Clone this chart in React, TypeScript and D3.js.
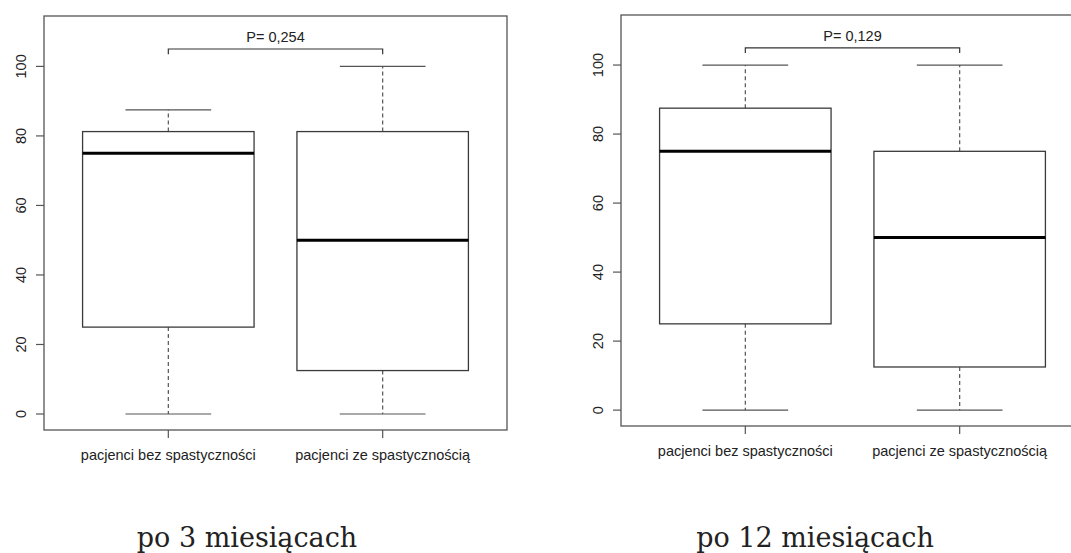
import React from 'react';
import * as d3 from 'd3';

// groups on the x axis
const groups = ['pacjenci bez spastyczności', 'pacjenci ze spastycznością'];
const yTicks = [0, 20, 40, 60, 80, 100];

// po 3 miesiącach
const min3 = [0, 0];
const q1_3 = [25, 12.5];
const med3 = [75, 50];
const q3_3 = [81.25, 81.25];
const max3 = [87.5, 100];

// po 12 miesiącach
const min12 = [0, 0];
const q1_12 = [25, 12.5];
const med12 = [75, 50];
const q3_12 = [87.5, 75];
const max12 = [100, 100];

const captions = ['po 3 miesiącach', 'po 12 miesiącach'];
const pLabels = ['P= 0,254', 'P= 0,129'];
const bracketValue = 105;

const W = 1071;
const H = 553;
const sans = '"Liberation Sans", Arial, Helvetica, sans-serif';

type Panel = {
  x: number; y: number; w: number; h: number;
  min: number[]; q1: number[]; med: number[]; q3: number[]; max: number[];
  p: string; caption: string; captionX: number;
};

const panels: Panel[] = [
  { x: 44, y: 16, w: 463, h: 414, min: min3, q1: q1_3, med: med3, q3: q3_3, max: max3, p: pLabels[0], caption: captions[0], captionX: 247 },
  { x: 621, y: 15, w: 463, h: 411, min: min12, q1: q1_12, med: med12, q3: q3_12, max: max12, p: pLabels[1], caption: captions[1], captionX: 815 },
];

function BoxPanel({ panel }: { panel: Panel }) {
  const x = d3.scaleLinear().domain([0.42, 2.58]).range([panel.x, panel.x + panel.w]);
  const y = d3.scaleLinear().domain([-4.6, 114.5]).range([panel.y + panel.h, panel.y]);
  const boxW = x(1.4) - x(1);
  const capW = x(1.2) - x(1);
  const bottom = panel.y + panel.h;
  const stroke = '#3a3a3a';

  return (
    <g>
      <rect x={panel.x} y={panel.y} width={panel.w} height={panel.h} fill="none" stroke="#555" strokeWidth={1.3} />

      {/* y axis */}
      {yTicks.map(t => (
        <g key={t}>
          <line x1={panel.x} x2={panel.x - 8} y1={y(t)} y2={y(t)} stroke="#555" strokeWidth={1.2} />
          <text
            transform={`translate(${panel.x - 18.5},${y(t)}) rotate(-90)`}
            textAnchor="middle"
            fontFamily={sans}
            fontSize={14.5}
            fill="#222"
          >{t}</text>
        </g>
      ))}

      {/* x axis */}
      {groups.map((g, i) => (
        <g key={g}>
          <line x1={x(i + 1)} x2={x(i + 1)} y1={bottom} y2={bottom + 8} stroke="#555" strokeWidth={1.2} />
          <text x={x(i + 1)} y={bottom + 30} textAnchor="middle" fontFamily={sans} fontSize={14.5} fill="#222">{g}</text>
        </g>
      ))}

      {/* boxes */}
      {groups.map((g, i) => {
        const cx = x(i + 1);
        return (
          <g key={'b' + i}>
            <line x1={cx} x2={cx} y1={y(panel.q3[i])} y2={y(panel.max[i])} stroke="#555" strokeWidth={1.2} strokeDasharray="4,3" />
            <line x1={cx} x2={cx} y1={y(panel.q1[i])} y2={y(panel.min[i])} stroke="#555" strokeWidth={1.2} strokeDasharray="4,3" />
            <line x1={cx - capW} x2={cx + capW} y1={y(panel.max[i])} y2={y(panel.max[i])} stroke="#555" strokeWidth={1.2} />
            <line x1={cx - capW} x2={cx + capW} y1={y(panel.min[i])} y2={y(panel.min[i])} stroke="#555" strokeWidth={1.2} />
            <rect x={cx - boxW} y={y(panel.q3[i])} width={boxW * 2} height={y(panel.q1[i]) - y(panel.q3[i])} fill="white" stroke={stroke} strokeWidth={1.3} />
            <line x1={cx - boxW} x2={cx + boxW} y1={y(panel.med[i])} y2={y(panel.med[i])} stroke="#000" strokeWidth={3} />
          </g>
        );
      })}

      {/* significance bracket */}
      <path
        d={`M${x(1)},${y(bracketValue - 1.5)}V${y(bracketValue)}H${x(2)}V${y(bracketValue - 1.5)}`}
        fill="none"
        stroke="#333"
        strokeWidth={1.2}
      />
      <text x={(x(1) + x(2)) / 2} y={y(bracketValue) - 7} textAnchor="middle" fontFamily={sans} fontSize={14.5} fill="#222">{panel.p}</text>

      <text x={panel.captionX} y={547} textAnchor="middle" fontFamily='"DejaVu Serif", serif' fontSize={27} fill="#222">{panel.caption}</text>
    </g>
  );
}

export default function App() {
  return (
    <div style={{ position: 'fixed', left: 0, top: 0 }}>
      <svg width={W} height={H} style={{ display: 'block', background: 'white', overflow: 'hidden' }}>
        <rect width={W} height={H} fill="white" />
        {panels.map((p, i) => <BoxPanel key={i} panel={p} />)}
      </svg>
    </div>
  );
}
